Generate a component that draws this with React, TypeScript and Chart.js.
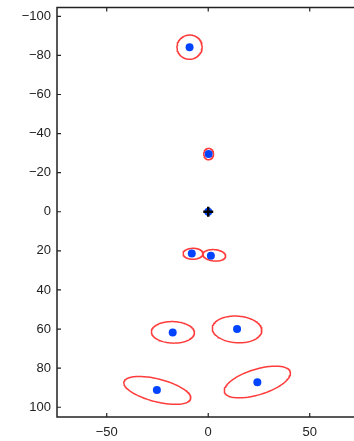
import React, { useEffect, useRef } from "react";
import { Chart, registerables } from "chart.js";

Chart.register(...registerables);

// Blue points (x, y)
const dotX = [-9.2, 0.2, 0, -8.1, 1.3, -17.5, 14.2, -25.3, 24.2];
const dotY = [-84.2, -29.5, 0, 21.3, 22.5, 61.8, 60.0, 91.2, 87.2];

// Origin marker
const crossX = [0];
const crossY = [0];

// Red ellipses: centre, semi-axes (data units), rotation (degrees)
const ellCX = [-9.2, 0.2, -7.5, 3.0, -17.4, 14.2, -25.1, 24.2];
const ellCY = [-84.2, -29.5, 21.5, 22.3, 61.7, 60.2, 91.4, 87.1];
const ellA = [6.2, 2.4, 4.9, 5.6, 10.6, 12.2, 17.0, 17.0];
const ellB = [6.2, 2.9, 2.8, 2.9, 5.5, 6.8, 5.8, 6.5];
const ellAngle = [0, 0, 0, 6, 2, 4, 15, -18];

// Axes
const xMin = -74.5;
const xMax = 75.5;
const yMin = -104.5;
const yMax = 105;
const xTicks = [-50, 0, 50];
const yTicks = [-100, -80, -60, -40, -20, 0, 20, 40, 60, 80, 100];

function ellipsePoints(i: number) {
  const pts: { x: number; y: number }[] = [];
  const phi = (ellAngle[i] * Math.PI) / 180;
  const n = 120;
  for (let k = 0; k <= n; k++) {
    const t = (2 * Math.PI * k) / n;
    const ex = ellA[i] * Math.cos(t);
    const ey = ellB[i] * Math.sin(t);
    pts.push({
      x: ellCX[i] + ex * Math.cos(phi) - ey * Math.sin(phi),
      y: ellCY[i] + ex * Math.sin(phi) + ey * Math.cos(phi),
    });
  }
  return pts;
}

const fmt = (v: number) => (v < 0 ? "\u2212" + Math.abs(v) : String(v));

const zeroPad = (s: any) => {
  s.paddingTop = 0;
  s.paddingBottom = 0;
  s.paddingLeft = 0;
  s.paddingRight = 0;
};

const boxPlugin = {
  id: "boxPlugin",
  afterDraw(chart: any) {
    const { ctx, chartArea, scales } = chart;
    const { left, right, top, bottom } = chartArea;
    ctx.save();
    ctx.strokeStyle = "#222";
    ctx.lineWidth = 1.5;
    ctx.strokeRect(left, top, right - left, bottom - top);
    ctx.lineWidth = 1.2;
    ctx.beginPath();
    for (const v of yTicks) {
      const py = scales.y.getPixelForValue(v);
      ctx.moveTo(left, py);
      ctx.lineTo(left + 4, py);
      ctx.moveTo(right, py);
      ctx.lineTo(right - 4, py);
    }
    for (const v of xTicks) {
      const px = scales.x.getPixelForValue(v);
      ctx.moveTo(px, bottom);
      ctx.lineTo(px, bottom - 4);
      ctx.moveTo(px, top);
      ctx.lineTo(px, top + 4);
    }
    ctx.stroke();
    ctx.restore();
  },
};

export default function App() {
  const ref = useRef<HTMLCanvasElement>(null);

  useEffect(() => {
    if (!ref.current) return;
    const ellipseSets = ellCX.map((_, i) => ({
      type: "scatter" as const,
      data: ellipsePoints(i),
      showLine: true,
      borderColor: "#ff3c3c",
      borderWidth: 1.5,
      borderCapStyle: "round",
      borderJoinStyle: "round",
      pointRadius: 0,
      pointHitRadius: 0,
      fill: false,
      tension: 0,
      order: 3,
    }));
    const chart = new Chart(ref.current, {
      type: "scatter",
      data: {
        datasets: [
          {
            data: crossX.map((x, i) => ({ x, y: crossY[i] })),
            pointStyle: "cross",
            pointRadius: 5,
            borderColor: "#000",
            borderWidth: 2.5,
            order: 1,
          },
          {
            data: dotX.map((x, i) => ({ x, y: dotY[i] })),
            pointRadius: 4,
            backgroundColor: "#0044ff",
            borderWidth: 0,
            order: 2,
          },
          ...ellipseSets,
        ] as any,
      },
      options: {
        responsive: false,
        animation: false,
        devicePixelRatio: 1,
        layout: { padding: { top: 7, right: 0, left: 0, bottom: 0 } },
        plugins: { legend: { display: false }, tooltip: { enabled: false } },
        scales: {
          x: {
            type: "linear",
            min: xMin,
            max: xMax,
            grid: { display: false, drawTicks: false },
            border: { display: false },
            afterBuildTicks: (s: any) => {
              s.ticks = xTicks.map((v) => ({ value: v }));
            },
            afterFit: (s: any) => {
              s.height = 24;
              zeroPad(s);
            },
            ticks: {
              padding: 8,
              maxRotation: 0,
              color: "#222",
              font: { family: "'Liberation Sans', Arial, sans-serif", size: 13 },
              callback: (v: any) => fmt(Number(v)),
            },
          },
          y: {
            type: "linear",
            min: yMin,
            max: yMax,
            reverse: true,
            grid: { display: false, drawTicks: false },
            border: { display: false },
            afterBuildTicks: (s: any) => {
              s.ticks = yTicks.map((v) => ({ value: v }));
            },
            afterFit: (s: any) => {
              s.width = 57;
              zeroPad(s);
            },
            ticks: {
              padding: 6,
              color: "#222",
              font: { family: "'Liberation Sans', Arial, sans-serif", size: 13 },
              callback: (v: any) => fmt(Number(v)),
            },
          },
        },
      },
      plugins: [boxPlugin],
    });
    return () => chart.destroy();
  }, []);

  return (
    <div
      style={{
        position: "absolute",
        left: 0,
        top: 0,
        width: 354,
        height: 441,
        overflow: "hidden",
        background: "#fff",
      }}
    >
      <canvas ref={ref} width={369} height={441} style={{ width: 369, height: 441, display: "block" }} />
    </div>
  );
}
